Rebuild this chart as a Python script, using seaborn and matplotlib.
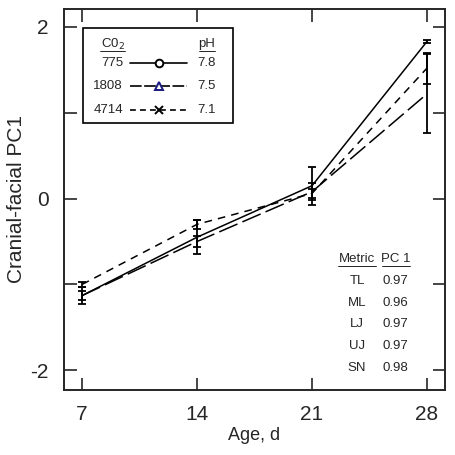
import numpy as np
import pandas as pd
import matplotlib
matplotlib.use('Agg')
import matplotlib.pyplot as plt
import seaborn as sns
from matplotlib.lines import Line2D
from matplotlib.patches import Rectangle

# data
ages = [7, 14, 21, 28]
co2_levels = ['775', '1808', '4714']
ph_levels = ['7.8', '7.5', '7.1']
pc1_775 = [-1.13, -0.45, 0.15, 1.83]
pc1_1808 = [-1.13, -0.50, 0.08, 1.22]
pc1_4714 = [-1.00, -0.30, 0.06, 1.52]
err_775 = [0.10, 0.20, 0.22, 0.02]
err_1808 = [0.05, 0.06, 0.10, 0.46]
err_4714 = [0.03, 0.05, 0.05, 0.18]
metrics = ['TL', 'ML', 'LJ', 'UJ', 'SN']
loadings = ['0.97', '0.96', '0.97', '0.97', '0.98']

sns.set_style('ticks')
plt.rcParams['font.family'] = ['Liberation Sans', 'DejaVu Sans']

df = pd.DataFrame({
    'age': ages * 3,
    'pc1': pc1_775 + pc1_1808 + pc1_4714,
    'co2': [c for c in co2_levels for _ in ages],
})

fig = plt.figure(figsize=(4.55, 4.55), dpi=100)
ax = fig.add_axes([0.1407, 0.1429, 0.8373, 0.8374])

dash_styles = {'775': '', '1808': (13, 3.5), '4714': (5, 4)}
sns.lineplot(data=df, x='age', y='pc1', style='co2', dashes=dash_styles,
             color='black', linewidth=1.1, ax=ax, legend=False)

for vals, errs in [(pc1_775, err_775), (pc1_1808, err_1808), (pc1_4714, err_4714)]:
    ax.errorbar(ages, vals, yerr=errs, fmt='none', ecolor='black',
                elinewidth=1.3, capsize=3, capthick=1.3)

ax.set_xlim(5.9, 29.1)
ax.set_ylim(-2.23, 2.21)
ax.set_xticks(ages)
ax.set_yticks([-2, 0, 2])
ax.set_yticks([-1, 1], minor=True)
ax.set_yticklabels(['-2', '0', '2'])
ax.tick_params(which='both', direction='in', top=True, right=True,
               length=9, width=1.2, labelsize=15, pad=11)
for s in ax.spines.values():
    s.set_linewidth(1.4)
ax.set_xlabel('Age, d', fontsize=13, labelpad=2)
ax.set_ylabel('Cranial-facial PC1', fontsize=15, labelpad=3)

# custom legend box
tr = ax.transAxes
fs = 9.5
ax.add_patch(Rectangle((0.05, 0.701), 0.394, 0.249, transform=tr, fill=False,
                       edgecolor='black', linewidth=1.2))
ax.text(0.128, 0.908, 'C0$_2$', transform=tr, fontsize=fs, ha='center', va='center')
ax.plot([0.095, 0.16], [0.889, 0.889], transform=tr, color='black', lw=0.6)
ax.text(0.375, 0.908, 'pH', transform=tr, fontsize=fs, ha='center', va='center')
ax.plot([0.355, 0.395], [0.889, 0.889], transform=tr, color='black', lw=0.6)
row_y = [0.858, 0.798, 0.735]
markers = ['o', '^', 'x']
mcolors = ['black', '#1a1a80', 'black']
lstyles = ['-', (0, (7, 1.5)), (0, (3.5, 2.5))]
for yy, c, p, m, mc, ls in zip(row_y, co2_levels, ph_levels, markers, mcolors, lstyles):
    ax.text(0.155, yy, c, transform=tr, fontsize=fs, ha='right', va='center')
    ax.text(0.375, yy, p, transform=tr, fontsize=fs, ha='center', va='center')
    ax.add_line(Line2D([0.173, 0.323], [yy, yy], transform=tr, color='black',
                       lw=1.2, linestyle=ls))
    ax.add_line(Line2D([0.249], [yy], transform=tr, marker=m, markersize=5.5,
                       markerfacecolor='white', markeredgecolor=mc,
                       markeredgewidth=1.4, linestyle='none'))

# metric loadings table
tfs = 9.5
ax.text(0.769, 0.344, 'Metric', transform=tr, fontsize=tfs, ha='center', va='center')
ax.plot([0.72, 0.818], [0.325, 0.325], transform=tr, color='black', lw=0.6)
ax.text(0.871, 0.344, 'PC 1', transform=tr, fontsize=tfs, ha='center', va='center')
ax.plot([0.834, 0.908], [0.325, 0.325], transform=tr, color='black', lw=0.6)
for i, (mt, ld) in enumerate(zip(metrics, loadings)):
    yy = 0.286 - i * 0.057
    ax.text(0.769, yy, mt, transform=tr, fontsize=tfs, ha='center', va='center')
    ax.text(0.871, yy, ld, transform=tr, fontsize=tfs, ha='center', va='center')

fig.savefig('out.png', dpi=100)
plt.close()
